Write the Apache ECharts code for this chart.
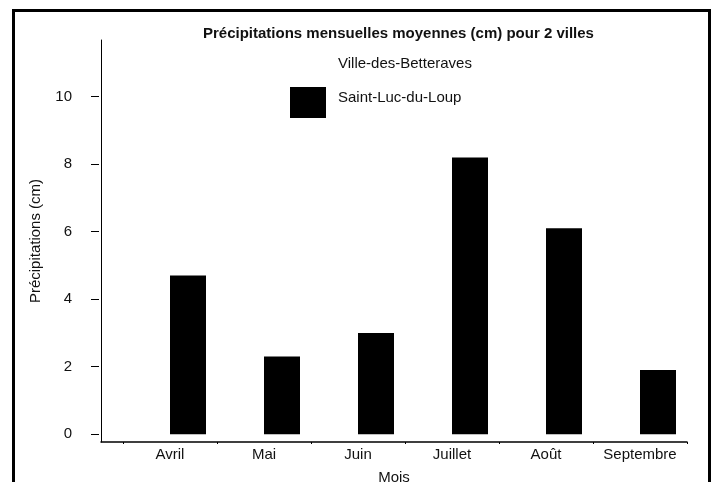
<!DOCTYPE html>
<html>
<head>
<meta charset="utf-8">
<script src="https://cdn.jsdelivr.net/npm/echarts@6/dist/echarts.min.js"></script>
<style>
  html, body { margin: 0; padding: 0; background: #fff; }
  #chart { width: 712px; height: 482px; }
</style>
</head>
<body>
<div id="chart"></div>
<script>
const months = ['Avril', 'Mai', 'Juin', 'Juillet', 'Août', 'Septembre'];
// first city is drawn white in the original, values not readable
const villeDesBetteraves = [null, null, null, null, null, null];
const saintLucDuLoup = [4.7, 2.3, 3.0, 8.2, 6.1, 1.9];
const yTicks = [0, 2, 4, 6, 8, 10];

const font = 'Arial, "Liberation Sans", sans-serif';
const ink = '#111';
const yMin = -0.23, yMax = 11.68;

const chart = echarts.init(document.getElementById('chart'));

const option = {
  animation: false,
  backgroundColor: '#fff',
  title: {
    text: 'Précipitations mensuelles moyennes (cm) pour 2 villes',
    left: 203,
    top: 26,
    padding: 0,
    textStyle: { fontFamily: font, fontSize: 15, fontWeight: 'bold', color: ink }
  },
  legend: {
    orient: 'vertical',
    left: 290,
    top: 53,
    padding: 0,
    itemWidth: 36,
    itemHeight: 31,
    itemGap: 3,
    icon: 'rect',
    formatter: name => '{t|' + name + '}',
    textStyle: {
      fontFamily: font, fontSize: 15, color: ink,
      rich: { t: { fontFamily: font, fontSize: 15, color: ink, padding: [0, 0, 10, 7] } }
    },
    data: ['Ville-des-Betteraves', 'Saint-Luc-du-Loup']
  },
  graphic: [{
    type: 'rect',
    shape: { x: 13.5, y: 10.5, width: 696, height: 500 },
    style: { fill: 'none', stroke: '#000', lineWidth: 3 },
    silent: true
  }],
  grid: [
    { left: 101, right: 25, top: 40, bottom: 40, outerBoundsMode: 'none' },
    { left: 123, right: 25, top: 40, bottom: 40, outerBoundsMode: 'none' }
  ],
  xAxis: [
    {
      gridIndex: 0,
      type: 'value',
      min: 0,
      max: 1,
      name: 'Mois',
      nameLocation: 'middle',
      nameGap: 28,
      nameTextStyle: { fontFamily: font, fontSize: 15, color: ink },
      axisLine: { show: true, onZero: false, lineStyle: { color: '#000', width: 1.5 } },
      axisTick: { show: false },
      axisLabel: { show: false },
      splitLine: { show: false }
    },
    {
      gridIndex: 1,
      type: 'category',
      data: months,
      axisLine: { show: false, onZero: false },
      axisTick: { show: true, interval: 0, length: 2, lineStyle: { color: '#000' } },
      axisLabel: { margin: 5, interval: 0, fontFamily: font, fontSize: 15, color: ink },
      splitLine: { show: false }
    }
  ],
  yAxis: [
    {
      gridIndex: 0,
      type: 'value',
      min: yMin,
      max: yMax,
      axisLine: { show: true, lineStyle: { color: '#000', width: 1 } },
      axisTick: { show: false },
      axisLabel: { show: false },
      splitLine: { show: false }
    },
    {
      gridIndex: 0,
      type: 'value',
      min: yMin,
      max: yMax,
      position: 'left',
      offset: 2,
      name: 'Précipitations (cm)',
      nameLocation: 'middle',
      nameGap: 56,
      nameTextStyle: { fontFamily: font, fontSize: 15, color: ink },
      axisLine: { show: false },
      axisTick: { show: true, length: 8, customValues: yTicks, lineStyle: { color: '#000' } },
      axisLabel: { margin: 27, customValues: yTicks, fontFamily: font, fontSize: 15, color: ink },
      splitLine: { show: false }
    },
    {
      gridIndex: 1,
      type: 'value',
      min: yMin,
      max: yMax,
      show: false
    }
  ],
  series: [
    {
      name: 'Ville-des-Betteraves',
      type: 'bar',
      xAxisIndex: 1,
      yAxisIndex: 2,
      data: villeDesBetteraves,
      barWidth: 36,
      barGap: '0%',
      itemStyle: { color: '#fff' }
    },
    {
      name: 'Saint-Luc-du-Loup',
      type: 'bar',
      xAxisIndex: 1,
      yAxisIndex: 2,
      data: saintLucDuLoup,
      barWidth: 36,
      barGap: '0%',
      itemStyle: { color: '#000' }
    }
  ]
};

chart.setOption(option);
</script>
</body>
</html>
